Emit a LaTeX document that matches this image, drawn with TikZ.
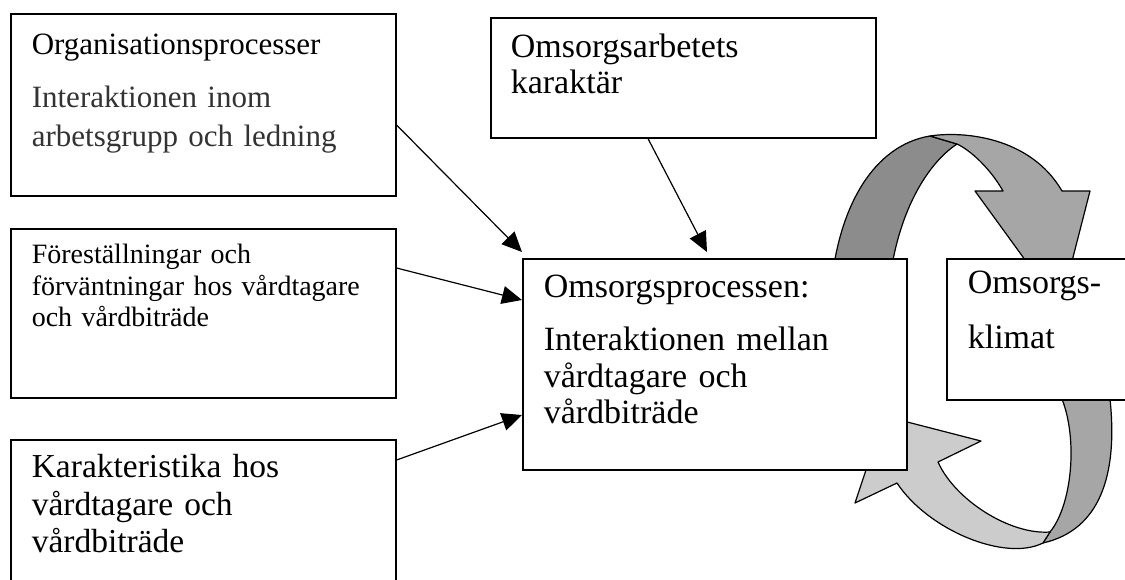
\documentclass[tikz,border=0pt]{standalone}
\usepackage{fontspec}
\setmainfont{Liberation Serif}
\usetikzlibrary{arrows.meta}

\begin{document}
\begin{tikzpicture}[x=1pt, y=-1pt,
    factor/.style = {draw, fill=white, line width=1.6pt, anchor=north west,
        inner xsep=21pt, inner ysep=0pt, align=left},
    arr/.style = {-{Triangle[length=20pt,width=18pt]}, line width=1.2pt},
    ribbon/.style = {draw, line width=1.2pt, line join=round}]

    \useasboundingbox (0,0) rectangle (1125,579);
    \clip (0,0) rectangle (1125,579);

    % Cycle arrows (behind the boxes)
    \filldraw[ribbon, fill=black!45] (830,300) .. controls (836,205) and (875,145) .. (930,136)
        -- (957,144) .. controls (925,165) and (893,220) .. (888,300) -- cycle;
    \filldraw[ribbon, fill=black!35] (930,136) .. controls (962,131) and (1030,136) .. (1062,191)
        -- (1090,191) -- (1060,308) -- (975,191) -- (1003,191)
        .. controls (990,168) and (970,150) .. (957,144) -- cycle;
    \filldraw[ribbon, fill=black!35] (1108,370) -- (1110,399)
        .. controls (1118,475) and (1100,530) .. (1043,543)
        -- (1050,532) .. controls (1072,505) and (1078,440) .. (1062,399) -- (1058,370) -- cycle;
    \filldraw[ribbon, fill=black!20] (1043,543) .. controls (1005,562) and (928,530) .. (897,483)
        -- (855,503) -- (884,416) -- (981,441) -- (938,462)
        .. controls (955,500) and (1010,535) .. (1050,532) -- cycle;

    % Nodes
    \node[factor, text width=343pt, text height=41pt, text depth=141pt,
        font=\fontsize{31}{39}\selectfont] (org) at (10,13)
        {Organisationsprocesser\\[14pt]\color{black!80}Interaktionen inom\\arbetsgrupp och ledning};
    \node[factor, text width=343pt, text height=35pt, text depth=134pt,
        font=\fontsize{28}{31.5}\selectfont] (fore) at (10,228)
        {Föreställningar och\\förväntningar hos vårdtagare\\och vårdbiträde};
    \node[factor, text width=343pt, text height=38pt, text depth=162pt,
        font=\fontsize{33.5}{37.5}\selectfont] (kar) at (10,439)
        {Karakteristika hos\\vårdtagare och\\vårdbiträde};
    \node[factor, inner xsep=20pt, text width=345pt, text height=40pt, text depth=80pt,
        font=\fontsize{34}{36}\selectfont] (arb) at (490,17)
        {Omsorgsarbetets\\karaktär};
    \node[factor, text width=342pt, text height=39pt, text depth=172pt,
        font=\fontsize{34}{36.5}\selectfont] (proc) at (522,258)
        {Omsorgsprocessen:\\[16.5pt]Interaktionen mellan\\vårdtagare och\\vårdbiträde};
    \node[factor, text width=208pt, text height=35pt, text depth=106pt,
        font=\fontsize{34}{36}\selectfont] (klimat) at (946,258)
        {Omsorgs-\\[19pt]klimat};

    % Edges
    \draw[arr] ([yshift=-112pt]org.north east) -- ([yshift=6pt]proc.north west);
    \draw[arr] ([yshift=-40pt]fore.north east) -- ([yshift=-42pt]proc.north west);
    \draw[arr] ([yshift=-21pt]kar.north east) -- ([yshift=-157pt]proc.north west);
    \draw[arr] ([xshift=158pt]arb.south west) -- ([xshift=185pt,yshift=6pt]proc.north west);

\end{tikzpicture}
\end{document}
